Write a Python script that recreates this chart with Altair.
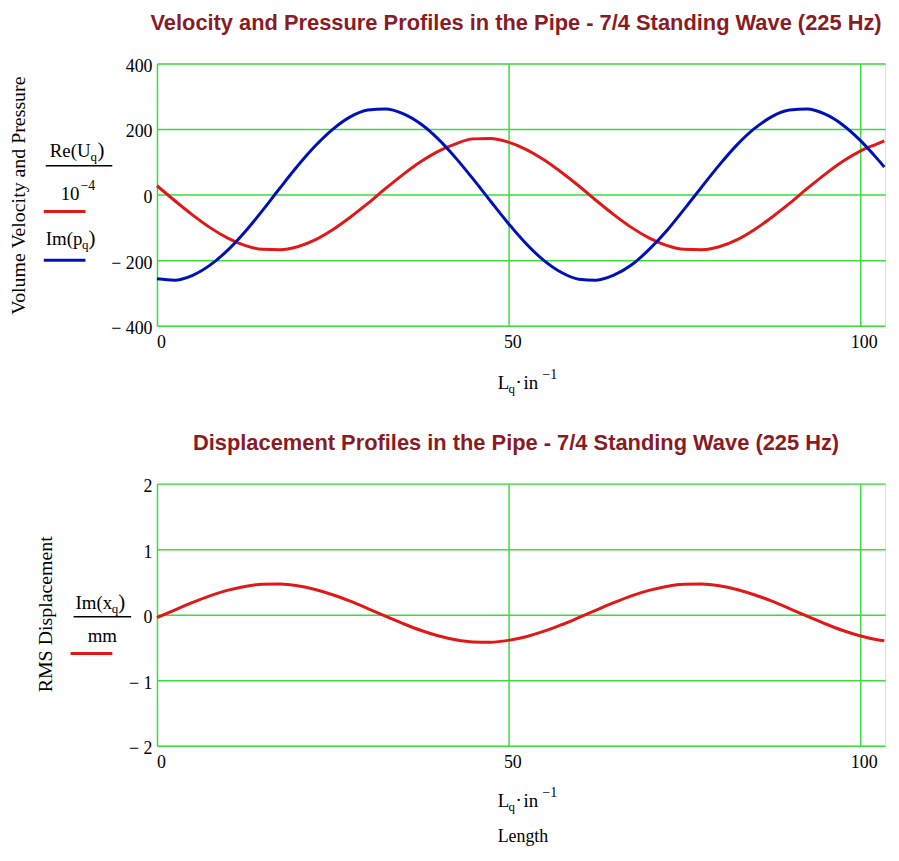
import altair as alt
import pandas as pd

# ---------------- data ----------------
x_len = [0, 2.5, 5, 7.5, 10, 12.5, 15, 17.5, 20, 22.5, 25, 27.5, 30, 32.5, 35,
         37.5, 40, 42.5, 45, 47.5, 50, 52.5, 55, 57.5, 60, 62.5, 65, 67.5, 70,
         72.5, 75, 77.5, 80, 82.5, 85, 87.5, 90, 92.5, 95, 97.5, 100, 102.5, 103.5]

re_u = [27, -18, -61, -100, -132, -155, -167, -168, -159, -138, -107, -69, -27,
        18, 61, 100, 132, 155, 170, 171, 160, 138, 107, 69, 27, -18, -61, -100,
        -132, -155, -167, -168, -159, -138, -107, -69, -27, 18, 61, 100, 132,
        155, 164]

im_p = [-257, -261, -247, -216, -171, -114, -49, 20, 87, 148, 199, 237, 258,
        261, 247, 216, 170, 112, 47, -21, -88, -149, -200, -237, -258, -261,
        -246, -215, -168, -111, -45, 23, 90, 151, 201, 238, 258, 261, 246, 214,
        167, 109, 84]

im_x = [-0.044, 0.072, 0.184, 0.287, 0.371, 0.432, 0.465, 0.468, 0.441, 0.385,
        0.305, 0.206, 0.094, -0.022, -0.134, -0.237, -0.321, -0.382, -0.415,
        -0.418, -0.391, -0.335, -0.255, -0.156, -0.044, 0.072, 0.184, 0.287,
        0.371, 0.432, 0.465, 0.468, 0.441, 0.385, 0.305, 0.206, 0.094, -0.022,
        -0.134, -0.237, -0.321, -0.382, -0.398]

x_ticks = [0, 50, 100]
y_ticks_top = [-400, -200, 0, 200, 400]
y_ticks_bot = [-2, -1, 0, 1, 2]

title_top = "Velocity and Pressure Profiles in the Pipe - 7/4 Standing Wave (225 Hz)"
title_bot = "Displacement Profiles in the Pipe - 7/4 Standing Wave (225 Hz)"

# ---------------- style ----------------
SERIF = "Liberation Serif"
SANS = "Liberation Sans"
RED = "#e01818"
BLUE = "#0010b8"
GRID = "#3ddc3d"
TITLE_COLOR = "#8a1a24"

W, H = 733, 264
X_MAX = 103.6
X0 = 157          # page x of plot left edge
OY_TOP = 64       # page y of top plot
OY_BOT = 487      # page y of bottom plot

one = pd.DataFrame({"k": [0]})


def txt(s, px, py, oy, size=19, align="left", baseline="alphabetic", angle=None,
        font=SERIF):
    kw = dict(text=s, font=font, fontSize=size, align=align, baseline=baseline,
              color="black")
    if angle is not None:
        kw["angle"] = angle
    return alt.Chart(one).mark_text(**kw).encode(
        x=alt.value(px - X0), y=alt.value(py - oy))


def seg(px1, px2, py, oy, color, width):
    return alt.Chart(one).mark_rule(color=color, strokeWidth=width).encode(
        x=alt.value(px1 - X0), x2=alt.value(px2 - X0), y=alt.value(py - oy))


def neg_expr():
    return ("datum.value < 0 ? '\u2212 ' + format(-datum.value, 'd') : "
            "format(datum.value, 'd')")


x_scale = alt.Scale(domain=[0, X_MAX], nice=False, zero=False)
x_axis = alt.Axis(values=x_ticks, grid=True, gridColor=GRID, gridWidth=1.5,
                  ticks=False, domain=False, labelFont=SERIF, labelFontSize=18,
                  labelColor="black", labelPadding=8, labelOffset=4,
                  labelFlush=False, labelBound=False, title=None)


def y_axis(vals):
    return alt.Axis(values=vals, grid=True, gridColor=GRID, gridWidth=1.5,
                    ticks=False, domain=False, labelFont=SERIF, labelFontSize=18,
                    labelColor="black", labelPadding=5, labelOffset=3,
                    labelBaseline="middle", labelFlush=False, labelBound=False,
                    labelExpr=neg_expr(), title=None)


def title_params(t):
    return alt.TitleParams(text=t, font=SANS, fontSize=22, fontWeight="bold",
                           color=TITLE_COLOR, anchor="middle", frame="group",
                           baseline="alphabetic", offset=6, dx=-5)


def xlabel(oy, base):
    return [
        txt("L", 500, base, oy),
        txt("q", 511, base + 4, oy, size=13),
        txt("\u00b7", 518, base - 1, oy),
        txt("in", 526, base, oy),
        txt("\u22121", 545, base - 10, oy, size=14),
    ]


# ---------------- top panel ----------------
df_top = pd.DataFrame({"L": x_len, "U": re_u, "P": im_p})

red_top = alt.Chart(df_top).mark_line(color=RED, strokeWidth=3, interpolate="monotone").encode(
    x=alt.X("L:Q", scale=x_scale, axis=x_axis),
    y=alt.Y("U:Q", scale=alt.Scale(domain=[-400, 400], nice=False),
            axis=y_axis(y_ticks_top)),
)
blue_top = alt.Chart(df_top).mark_line(color=BLUE, strokeWidth=3, interpolate="monotone").encode(
    x=alt.X("L:Q", scale=x_scale),
    y=alt.Y("P:Q", scale=alt.Scale(domain=[-400, 400], nice=False)),
)

ann_top = [
    txt("Volume Velocity and Pressure", 18.5, 197, OY_TOP, size=20,
        align="center", baseline="middle", angle=270),
    txt("Re(U", 49, 158, OY_TOP),
    txt("q", 90, 162, OY_TOP, size=13),
    txt(")", 97, 158, OY_TOP, size=21),
    seg(45, 112, 167, OY_TOP, "black", 1.5),
    txt("10", 60, 201, OY_TOP),
    txt("\u22124", 80, 191, OY_TOP, size=14),
    seg(43, 85, 213, OY_TOP, RED, 3),
    txt("Im(p", 45, 247, OY_TOP),
    txt("q", 81.5, 251, OY_TOP, size=13),
    txt(")", 88, 247, OY_TOP, size=21),
    seg(43, 85, 262, OY_TOP, BLUE, 3),
] + xlabel(OY_TOP, 392)

top = alt.layer(red_top, blue_top, *ann_top).properties(
    width=W, height=H, title=title_params(title_top))

# ---------------- bottom panel ----------------
df_bot = pd.DataFrame({"L": x_len, "X": im_x})

red_bot = alt.Chart(df_bot).mark_line(color=RED, strokeWidth=3, interpolate="monotone").encode(
    x=alt.X("L:Q", scale=x_scale, axis=x_axis),
    y=alt.Y("X:Q", scale=alt.Scale(domain=[-2, 2], nice=False),
            axis=y_axis(y_ticks_bot)),
)

ann_bot = [
    txt("RMS Displacement", 45, 618.5, OY_BOT, size=20,
        align="center", baseline="middle", angle=270),
    txt("Im(x", 75, 613, OY_BOT),
    txt("q", 111.5, 617, OY_BOT, size=13),
    txt(")", 118, 613, OY_BOT, size=21),
    seg(73, 131, 621, OY_BOT, "black", 1.5),
    txt("mm", 102, 646, OY_BOT, align="center"),
    seg(70, 112, 658, OY_BOT, RED, 3),
    txt("Length", 500, 848, OY_BOT, size=18),
] + xlabel(OY_BOT, 813)

bottom = alt.layer(red_bot, *ann_bot).properties(
    width=W, height=H, title=title_params(title_bot))

chart = alt.vconcat(top, bottom, spacing=OY_BOT - OY_TOP - H, bounds="flush").properties(
    padding={"left": 1, "top": 0, "right": 0, "bottom": 0}
).configure_view(stroke="black", strokeWidth=1.5).configure(background="white")

chart.save("out.html", embed_options={"renderer": "svg", "actions": False})
